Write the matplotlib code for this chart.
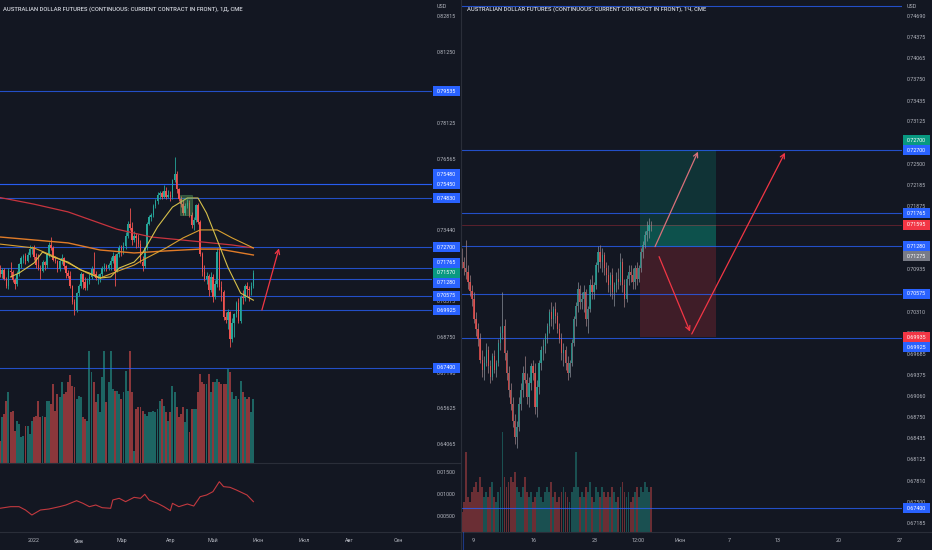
import numpy as np
import matplotlib

matplotlib.use("Agg")
import matplotlib.pyplot as plt
import matplotlib.transforms as mtransforms
from matplotlib.patches import Rectangle
from matplotlib.lines import Line2D

plt.rcParams["font.family"] = ["Roboto", "DejaVu Sans"]

W_PX, H_PX, DPI = 932, 550, 100
BG = "#131722"
BORDER = "#2a2e39"
TEXT = "#b2b5be"
UP = "#26a69a"
DOWN = "#ef5350"
BLUE = "#2962ff"
FS = 3.9
BADGE_H = 10.0

TITLE_D = "AUSTRALIAN DOLLAR FUTURES (CONTINUOUS: CURRENT CONTRACT IN FRONT), 1Д, CME"
TITLE_H = "AUSTRALIAN DOLLAR FUTURES (CONTINUOUS: CURRENT CONTRACT IN FRONT), 1Ч, CME"

# daily bars 9 Dec 2021 .. 27 May 2022, prices in 1e-4 USD
d_open = [7170, 7150, 7170, 7130, 7100, 7165, 7160, 7125, 7110, 7150, 7195, 7220, 7230, 7210, 7235, 7260,
          7270, 7225, 7190, 7180, 7165, 7205, 7190, 7240, 7280, 7265, 7215, 7210, 7175, 7210, 7220, 7185, 7155, 7145, 7100, 7030, 6995,
          7070, 7100, 7150, 7115, 7090, 7120, 7140, 7175, 7150, 7135, 7140, 7150, 7180, 7185, 7180, 7190, 7210, 7230, 7165, 7240,
          7265, 7255, 7275, 7320, 7370, 7355, 7300, 7320, 7310, 7285, 7205, 7185, 7265, 7370, 7400, 7410, 7450, 7470, 7500, 7505, 7490, 7515, 7490,
          7500, 7490, 7565, 7590, 7525, 7480, 7460, 7420, 7450, 7465, 7410, 7365, 7390, 7455, 7380, 7240, 7160, 7130, 7145, 7080,
          7140, 7050, 7110, 7250, 7095, 7075, 6965, 6950, 6985, 6865, 6935, 6975, 7025, 6945, 7050, 7045, 7100, 7085, 7080, 7100]
d_high = [7190, 7180, 7180, 7140, 7180, 7205, 7170, 7135, 7165, 7200, 7230, 7240, 7245, 7250, 7280, 7275,
          7280, 7245, 7240, 7190, 7215, 7210, 7245, 7290, 7315, 7275, 7230, 7215, 7220, 7240, 7225, 7190, 7170, 7165, 7105, 7040, 7075,
          7110, 7160, 7155, 7140, 7135, 7155, 7185, 7250, 7165, 7150, 7155, 7185, 7200, 7195, 7200, 7225, 7250, 7240, 7245, 7280,
          7280, 7290, 7335, 7385, 7440, 7380, 7340, 7330, 7325, 7300, 7230, 7270, 7380, 7410, 7420, 7460, 7480, 7510, 7515, 7515, 7540, 7535, 7520,
          7515, 7570, 7665, 7605, 7530, 7495, 7475, 7465, 7480, 7475, 7425, 7400, 7460, 7465, 7390, 7250, 7190, 7160, 7150, 7160,
          7150, 7125, 7265, 7265, 7120, 7080, 6985, 7000, 6990, 6960, 6980, 7035, 7045, 7060, 7080, 7110, 7115, 7100, 7115, 7170]
d_low = [7140, 7135, 7125, 7090, 7085, 7140, 7115, 7085, 7100, 7145, 7180, 7200, 7195, 7205, 7225, 7240,
         7215, 7180, 7170, 7130, 7160, 7170, 7180, 7225, 7255, 7210, 7200, 7160, 7165, 7195, 7175, 7135, 7135, 7090, 7020, 6970, 6985,
         7055, 7090, 7085, 7080, 7080, 7110, 7130, 7145, 7125, 7110, 7115, 7140, 7165, 7165, 7170, 7170, 7200, 7100, 7160, 7225,
         7230, 7240, 7260, 7310, 7345, 7280, 7290, 7265, 7270, 7200, 7165, 7180, 7255, 7365, 7385, 7400, 7440, 7460, 7480, 7480, 7485, 7480, 7485,
         7470, 7480, 7555, 7505, 7470, 7445, 7410, 7410, 7440, 7400, 7355, 7345, 7380, 7370, 7230, 7145, 7120, 7110, 7055, 7075,
         7030, 7040, 7095, 7080, 7035, 6950, 6935, 6910, 6830, 6855, 6875, 6965, 6935, 6935, 7020, 7035, 7055, 7035, 7060, 7090]
d_close = [7150, 7170, 7130, 7100, 7165, 7160, 7125, 7110, 7150, 7195, 7220, 7230, 7210, 7235, 7260, 7270,
           7225, 7190, 7180, 7165, 7205, 7190, 7240, 7280, 7265, 7215, 7210, 7175, 7210, 7220, 7185, 7155, 7145, 7100, 7030, 6995, 7070,
           7100, 7150, 7115, 7090, 7120, 7140, 7175, 7150, 7135, 7140, 7150, 7180, 7185, 7180, 7190, 7210, 7230, 7165, 7240, 7265,
           7255, 7275, 7320, 7370, 7355, 7300, 7320, 7310, 7285, 7205, 7185, 7265, 7370, 7400, 7410, 7450, 7470, 7500, 7505, 7490, 7515, 7490, 7500,
           7490, 7565, 7590, 7525, 7480, 7460, 7420, 7450, 7465, 7410, 7365, 7390, 7455, 7380, 7240, 7160, 7130, 7145, 7080, 7140,
           7050, 7110, 7250, 7095, 7075, 6965, 6950, 6985, 6865, 6935, 6975, 7025, 6945, 7050, 7045, 7100, 7085, 7080, 7100, 7157]
d_volume = [67, 137, 147, 187, 212, 152, 157, 97, 127, 117, 77, 82, 112, 112, 87, 127, 137, 142, 187, 137, 142,
            137, 187, 187, 177, 237, 157, 207, 197, 242, 207, 212, 242, 264, 232, 227, 192, 202, 197, 137, 132, 127,
            335, 272, 242, 182, 207, 152, 257, 335, 182, 242, 335,
            222, 217, 217, 207, 192, 212, 277, 217, 335, 212,
            37, 162, 167, 167, 157, 147, 142, 152, 152, 157, 152,
            162, 187, 192, 172, 152, 127, 152, 232, 212, 167,
            137, 147, 167, 122, 162, 92, 162, 162, 162, 212,
            267, 242, 237, 237, 267, 212, 242, 242, 252, 242,
            237, 237, 237, 282, 272, 212, 192, 202, 192, 247,
            212, 197, 192, 197, 152, 192]

# moving averages (bar index, price)
ma200_x = [0, 16, 32, 55, 71, 94, 109, 119]
ma200_y = [0.7487, 0.7458, 0.7424, 0.7348, 0.7314, 0.7293, 0.7279, 0.7266]
ma100_x = [0, 16, 32, 47, 63, 78, 94, 103, 119]
ma100_y = [0.7314, 0.7301, 0.7288, 0.7257, 0.7244, 0.7253, 0.7261, 0.7261, 0.7235]
ma50_x = [0, 16, 24, 32, 41, 47, 53, 63, 67, 78, 86, 94, 102, 109, 119]
ma50_y = [0.7283, 0.7266, 0.7235, 0.7200, 0.7156, 0.7134, 0.7156, 0.7191, 0.7213, 0.7266, 0.7310, 0.7345, 0.7345, 0.7310, 0.7266]
ma20_x = [5, 9, 16, 20, 25, 32, 38, 42, 47, 52, 56, 63, 67, 74, 81, 88, 93, 97, 102, 107, 113, 119]
ma20_y = [0.7139, 0.7156, 0.7200, 0.7248, 0.7226, 0.7204, 0.7169, 0.7156, 0.7134, 0.7139, 0.7178, 0.7204, 0.7244,
          0.7358, 0.7445, 0.7485, 0.7485, 0.7419, 0.7301, 0.7182, 0.7068, 0.7037]

# lower indicator pane
ind_x = [0, 5, 9, 12, 15, 19, 23, 28, 31, 36, 39, 42, 45, 48, 52, 53, 56, 59, 63, 66, 68, 70, 74, 77, 80,
         81, 84, 88, 91, 94, 97, 100, 103, 105, 108, 111, 116, 119]
ind_y = [0.00675, 0.00712, 0.00712, 0.00636, 0.00523, 0.00636, 0.00659, 0.00712, 0.00750, 0.00848, 0.00788,
         0.00712, 0.00750, 0.00689, 0.00675, 0.00864, 0.00902, 0.00826, 0.00924, 0.00902, 0.00993, 0.00864,
         0.00788, 0.00712, 0.00621, 0.00788, 0.00712, 0.00773, 0.00727, 0.00939, 0.00977, 0.01053, 0.01280,
         0.01167, 0.01152, 0.01091, 0.00977, 0.00826]

d_lines = [0.79535, 0.7548, 0.7545, 0.7483, 0.727, 0.71765, 0.7128, 0.70575, 0.69925, 0.674]
d_box = (84.5, 90.2, 0.7410, 0.7498)
d_arrow = ((123, 0.6994), (131, 0.7264))

d_yticks = ["0.82815", "0.81250", "0.79690", "0.78125", "0.76565", "0.75000", "0.73440", "0.71875",
            "0.70315", "0.68750", "0.67190", "0.65625", "0.64065"]
d_months = [16, 37, 57, 80, 100, 121, 143, 164, 187]
d_month_labels = ["2022", "Фев", "Мар", "Апр", "Май", "Июн", "Июл", "Авг", "Сен"]

# 4-hour bars 6 May .. 27 May 2022 (day 0 = 9 May), prices in 1e-4 USD
h_days = [-1, 0, 1, 2, 3, 4, 5, 6, 7, 8, 9, 10, 11, 12, 13, 14]
h_open = [7110, 7105, 7095, 7090, 7075, 7062, 7050, 7020, 7005, 6990, 6960, 6945,
          6955, 6975, 6950, 6935, 6965, 6945, 6955, 6985, 7000, 7010, 6970, 6940,
          6915, 6895, 6870, 6845, 6860, 6895, 6915, 6940, 6930, 6905, 6925, 6950,
          6940, 6890, 6920, 6955, 6975, 6980, 6995, 7010, 7030, 7020, 7035, 7025,
          7005, 6990, 6970, 6975, 6955, 6940, 6955, 6985, 7020, 7040, 7065, 7045,
          7050, 7060, 7020, 7035, 7070, 7060, 7070, 7100, 7120, 7105, 7115, 7095,
          7085, 7070, 7085, 7060, 7070, 7080, 7075, 7105, 7070, 7050, 7080, 7090,
          7085, 7075, 7095, 7080, 7095, 7120, 7130, 7145, 7150, 7160]
h_high = [7125, 7112, 7137, 7100, 7085, 7070, 7060, 7030, 7015, 7000, 6975, 6965,
          6985, 6980, 6960, 6970, 6975, 6960, 6990, 7010, 7060, 7020, 6975, 6950,
          6925, 6905, 6880, 6870, 6905, 6925, 6950, 6965, 6940, 6935, 6955, 6960,
          6955, 6930, 6960, 6980, 6990, 7000, 7015, 7035, 7045, 7040, 7045, 7030,
          7015, 7000, 6985, 6980, 6965, 6960, 6990, 7025, 7045, 7075, 7070, 7060,
          7070, 7065, 7040, 7080, 7085, 7075, 7105, 7128, 7130, 7125, 7120, 7105,
          7100, 7090, 7095, 7075, 7090, 7095, 7118, 7110, 7080, 7085, 7100, 7100,
          7095, 7100, 7105, 7100, 7125, 7135, 7150, 7165, 7170, 7165]
h_low = [7095, 7085, 7080, 7065, 7055, 7040, 7015, 6995, 6980, 6955, 6935, 6930,
         6950, 6940, 6925, 6930, 6940, 6935, 6950, 6975, 6990, 6960, 6930, 6905,
         6885, 6860, 6835, 6830, 6855, 6885, 6905, 6925, 6895, 6890, 6915, 6930,
         6880, 6875, 6910, 6945, 6960, 6970, 6985, 7000, 7010, 7005, 7015, 7000,
         6985, 6960, 6950, 6945, 6930, 6935, 6950, 6980, 7010, 7030, 7035, 7035,
         7030, 7010, 7000, 7030, 7050, 7050, 7065, 7090, 7095, 7090, 7085, 7075,
         7060, 7055, 7050, 7040, 7060, 7065, 7070, 7060, 7038, 7045, 7070, 7075,
         7065, 7065, 7070, 7075, 7090, 7110, 7125, 7135, 7140, 7150]
h_close = [7105, 7095, 7090, 7075, 7062, 7050, 7020, 7005, 6990, 6960, 6945, 6955,
           6975, 6950, 6935, 6965, 6945, 6955, 6985, 7000, 7010, 6970, 6940, 6915,
           6895, 6870, 6845, 6860, 6895, 6915, 6940, 6930, 6905, 6925, 6950, 6940,
           6890, 6920, 6955, 6975, 6980, 6995, 7010, 7030, 7020, 7035, 7025, 7005,
           6990, 6970, 6975, 6955, 6940, 6955, 6985, 7020, 7040, 7065, 7045, 7050,
           7060, 7020, 7035, 7070, 7060, 7070, 7100, 7120, 7105, 7115, 7095, 7085,
           7070, 7085, 7060, 7070, 7080, 7075, 7105, 7070, 7050, 7080, 7090, 7085,
           7075, 7095, 7080, 7095, 7120, 7130, 7145, 7150, 7160, 7159.5]
h_volume = [20, 30, 80, 35, 30, 40, 45, 50, 40, 55, 45, 35, 40, 35, 45, 50, 35, 30,
            40, 45, 100, 55, 45, 50, 55, 50, 60, 45, 40, 35, 45, 55, 40, 35, 40, 30,
            35, 40, 45, 35, 30, 40, 45, 40, 50, 35, 40, 30, 35, 40, 45, 40, 35, 30,
            40, 45, 80, 45, 35, 40, 35, 45, 40, 50, 35, 30, 45, 40, 35, 45, 40, 35,
            40, 35, 45, 40, 30, 35, 45, 50, 40, 35, 40, 30, 35, 40, 45, 35, 45, 40,
            50, 45, 40, 45]

h_lines = [0.7483, 0.727, 0.71765, 0.7128, 0.70575, 0.69925, 0.674]
pos_start, pos_end = 13.69, 19.92
pos_target, pos_entry, pos_stop = 0.727, 0.71275, 0.69935
h_arrows = [((14.92, 0.71273), (18.44, 0.72678), "#d9707a"),
            ((15.25, 0.71125), (17.79, 0.70015), "#f23645"),
            ((17.93, 0.69981), (25.57, 0.72663), "#f23645")]

h_yticks = ["0.74690", "0.74375", "0.74065", "0.73750", "0.73435", "0.73125", "0.72815", "0.72500",
            "0.72185", "0.71875", "0.71560", "0.71250", "0.70935", "0.70625", "0.70310", "0.70000",
            "0.69685", "0.69375", "0.69060", "0.68750", "0.68435", "0.68125", "0.67810", "0.67500", "0.67185"]
h_xticks = [0, 5, 10, 13.5, 17, 21, 25, 30, 35]
h_xlabels = ["9", "16", "23", "12:00", "Июн", "7", "13", "20", "27"]

PIP = 1e-4


def pane(fig, box, z=1):
    x0, y0, x1, y1 = box
    ax = fig.add_axes([x0 / W_PX, 1 - y1 / H_PX, (x1 - x0) / W_PX, (y1 - y0) / H_PX], zorder=z)
    ax.patch.set_alpha(0)
    for s in ax.spines.values():
        s.set_visible(False)
    ax.yaxis.tick_right()
    ax.tick_params(axis="y", length=0, labelsize=FS, labelcolor=TEXT, pad=3.6)
    ax.tick_params(axis="x", length=0, labelsize=FS, labelcolor=TEXT, pad=4.6)
    ax.set_xticks([])
    return ax


def px_per_unit(ax):
    y0, y1 = ax.get_ylim()
    return ax.get_position().height * H_PX / (y1 - y0)


def candles(ax, x, o, h, l, c, width, wick_up, wick_dn, alpha=1.0):
    o, h, l, c = (np.asarray(v, float) * PIP for v in (o, h, l, c))
    up = c >= o
    ax.vlines(x, l, h, colors=np.where(up, wick_up, wick_dn), lw=0.6, alpha=alpha, zorder=3)
    ax.bar(x, np.maximum(np.abs(c - o), 0.5 * PIP), bottom=np.minimum(o, c), width=width,
           color=np.where(up, UP, DOWN), lw=0, alpha=alpha, zorder=4)


def badges(ax, items):
    ax_w = ax.get_position().width * W_PX
    step = BADGE_H / px_per_unit(ax)
    trans = mtransforms.blended_transform_factory(ax.transAxes, ax.transData)
    placed = []
    for price, color in items:
        y, direction, clash = price, 0, True
        while clash:
            clash = False
            for p in placed:
                if abs(y - p) < step * 0.999:
                    if direction == 0:
                        direction = 1 if price >= p else -1
                    y = p + direction * step
                    clash = True
        placed.append(y)
        ax.add_patch(Rectangle((1 + 1 / ax_w, y - step / 2), 27 / ax_w, step, transform=trans,
                               fc=color, ec="none", clip_on=False, zorder=6))
        ax.text(1 + 14.5 / ax_w, y, f"{price:.5f}", transform=trans, ha="center", va="center",
                color="white", fontsize=FS, zorder=7, clip_on=False)
    return placed


def price_ticks(ax, labels, placed):
    # a scale label sitting under a badge is not shown
    ppu = px_per_unit(ax)
    keep = [t for t in labels if min(abs(float(t) - p) for p in placed) * ppu > 4.0]
    ax.set_yticks([float(t) for t in keep], keep)


def arrow(ax, start, end, color):
    ax.annotate("", xy=end, xytext=start,
                arrowprops=dict(arrowstyle="->", color=color, lw=0.9, shrinkA=0, shrinkB=0,
                                mutation_scale=8), zorder=8)


def fig_line(fig, x0, y0, x1, y1):
    fig.add_artist(Line2D([x0 / W_PX, x1 / W_PX], [1 - y0 / H_PX, 1 - y1 / H_PX],
                          transform=fig.transFigure, color=BORDER, lw=0.8, zorder=9))


def main() -> None:
    fig = plt.figure(figsize=(W_PX / DPI, H_PX / DPI), dpi=DPI, facecolor=BG)

    # ---- left: daily chart ----
    d_x = np.arange(len(d_close))
    d_xlim = (0.04, 202.85)
    d_up = np.asarray(d_close) >= np.asarray(d_open)

    ax_dv = pane(fig, (0, 0, 432, 463), z=0)
    ax_dv.axis("off")
    ax_dv.bar(d_x, d_volume, width=0.9, color=np.where(d_up, UP, DOWN), alpha=0.55, lw=0)
    ax_dv.set_xlim(d_xlim)
    ax_dv.set_ylim(0, 1389)

    ax_d = pane(fig, (0, 0, 432, 463))
    ax_d.set_xlim(d_xlim)
    ax_d.set_ylim(0.63232, 0.83530)
    for lv in d_lines:
        ax_d.axhline(lv, color=BLUE, lw=0.8, alpha=0.75, zorder=2)
    ax_d.plot(ma200_x, ma200_y, color="#c8343e", lw=0.9, zorder=5)
    ax_d.plot(ma100_x, ma100_y, color="#e07b28", lw=1.0, zorder=5)
    ax_d.plot(ma50_x, ma50_y, color="#d9a030", lw=0.8, zorder=5)
    ax_d.plot(ma20_x, ma20_y, color="#d6c04a", lw=0.8, zorder=5)
    candles(ax_d, d_x, d_open, d_high, d_low, d_close, 0.7, UP, DOWN)
    bx0, bx1, by0, by1 = d_box
    ax_d.add_patch(Rectangle((bx0, by0), bx1 - bx0, by1 - by0, fc="#66bb6a", ec="#66bb6a",
                             alpha=0.35, lw=0.6, zorder=6))
    arrow(ax_d, d_arrow[0], d_arrow[1], "#f23645")
    d_last = d_close[-1] * PIP
    placed = badges(ax_d, [(d_last, "#089981")] + [(lv, BLUE) for lv in sorted(d_lines)])
    price_ticks(ax_d, d_yticks, placed)

    ax_i = pane(fig, (0, 463, 432, 532))
    ax_i.set_xlim(d_xlim)
    ax_i.set_ylim(0.0013636, 0.017045)
    ax_i.plot(ind_x, ind_y, color="#c2393f", lw=0.8)
    ax_i.set_yticks([0.015, 0.01, 0.005], ["0.01500", "0.01000", "0.00500"])
    ax_i.set_xticks(d_months, d_month_labels)

    # ---- right: hourly chart ----
    h_x = np.array([d + (k + 0.5) / 6 for d in h_days for k in range(6)])[:len(h_close)]
    h_xlim = (-0.9, 35.16)
    h_up = np.asarray(h_close) >= np.asarray(h_open)

    ax_hv = pane(fig, (462, 0, 902, 532), z=0)
    ax_hv.axis("off")
    ax_hv.bar(h_x, h_volume, width=0.15, color=np.where(h_up, UP, DOWN), alpha=0.4, lw=0)
    ax_hv.set_xlim(h_xlim)
    ax_hv.set_ylim(0, 532)

    ax_h = pane(fig, (462, 0, 902, 532))
    ax_h.set_xlim(h_xlim)
    ax_h.set_ylim(0.67051, 0.74922)
    for lv in h_lines:
        ax_h.axhline(lv, color=BLUE, lw=0.8, alpha=0.75, zorder=2)
    h_last = h_close[-1] * PIP
    ax_h.axhline(h_last, color="#f23645", lw=0.5, alpha=0.45, zorder=2)
    pw = pos_end - pos_start
    ax_h.add_patch(Rectangle((pos_start, pos_entry), pw, pos_target - pos_entry,
                             fc="#089981", alpha=0.22, lw=0, zorder=1))
    ax_h.add_patch(Rectangle((pos_start, pos_stop), pw, pos_entry - pos_stop,
                             fc="#f23645", alpha=0.2, lw=0, zorder=1))
    ax_h.add_patch(Rectangle((pos_start, pos_entry), pw, h_last - pos_entry,
                             fc="#089981", alpha=0.3, lw=0, zorder=1))
    candles(ax_h, h_x, h_open, h_high, h_low, h_close, 0.1, "#8d939c", "#a4868a", alpha=0.8)
    for start, end, color in h_arrows:
        arrow(ax_h, start, end, color)
    ax_h.set_xticks(h_xticks, h_xlabels)
    placed = badges(ax_h, [(h_last, "#f23645"), (pos_stop, "#f23645")]
                    + [(lv, BLUE) for lv in sorted(h_lines) if lv < 0.74]
                    + [(pos_target, "#089981"), (pos_entry, "#787b86")])
    price_ticks(ax_h, h_yticks, placed)

    # ---- frame, headers, titles ----
    fig_line(fig, 0, 463, 460, 463)
    fig_line(fig, 0, 532, 932, 532)
    fig_line(fig, 461, 0, 461, 550)
    fig.add_artist(Line2D([462.5 / W_PX] * 2, [0, 1 - 532 / H_PX], transform=fig.transFigure,
                          color=BLUE, lw=0.8, alpha=0.45, zorder=9))
    for x0 in (432.5, 902.5):
        fig.add_artist(Rectangle((x0 / W_PX, 1 - 12.5 / H_PX), 28 / W_PX, 12.5 / H_PX,
                                 transform=fig.transFigure, fc=BG, ec="none", zorder=10))
        fig.text((x0 + 4.5) / W_PX, 1 - 7 / H_PX, "USD", color=TEXT, fontsize=FS,
                 va="center", ha="left", zorder=11)
    for x0, title in ((3, TITLE_D), (467, TITLE_H)):
        fig.text(x0 / W_PX, 1 - 9.5 / H_PX, title, color="#d1d4dc", fontsize=4.2,
                 weight="medium", va="center", zorder=11)

    fig.savefig("out.png", dpi=DPI, facecolor=BG)
    plt.close(fig)


if __name__ == "__main__":
    main()
